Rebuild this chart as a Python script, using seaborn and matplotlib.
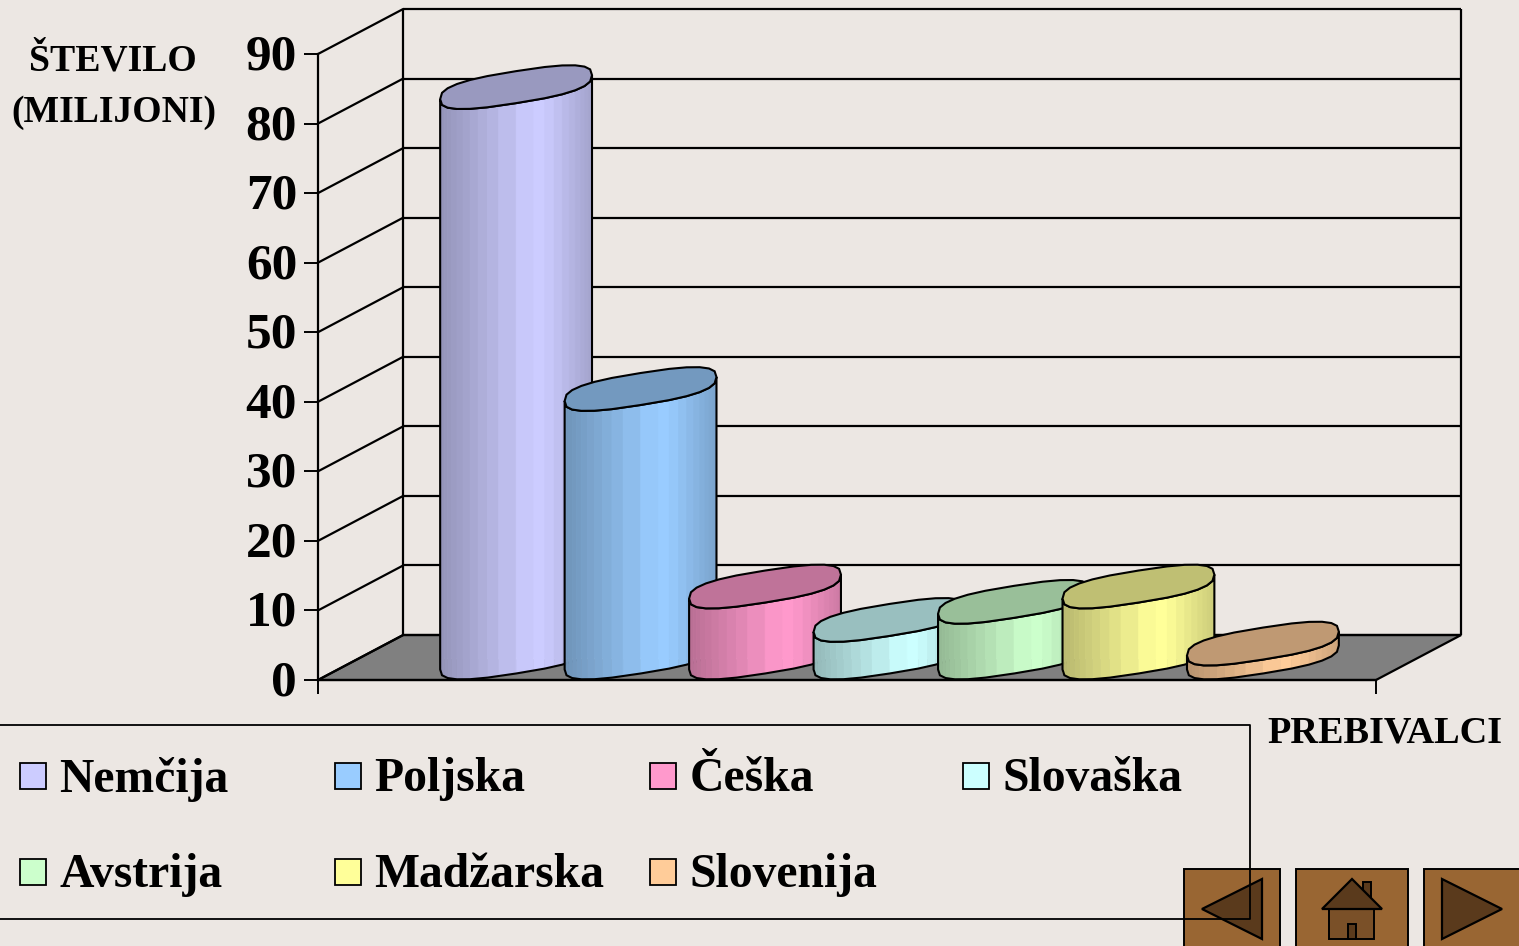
import numpy as np
import pandas as pd
import matplotlib
matplotlib.use("Agg")
import matplotlib.pyplot as plt
import seaborn as sns
from matplotlib.collections import PolyCollection
from matplotlib.patches import Polygon, Rectangle
from matplotlib.transforms import Affine2D, IdentityTransform

countries = ["Nemčija", "Poljska", "Češka", "Slovaška", "Avstrija", "Madžarska", "Slovenija"]
people = [82, 38.6, 10.2, 5.4, 8, 10.2, 2]
colors = ["#CCCCFF", "#99CCFF", "#FF99CC", "#CCFFFF", "#CCFFCC", "#FFFF99", "#FFCC99"]
y_ticks = [0, 10, 20, 30, 40, 50, 60, 70, 80, 90]

BG = "#ECE7E3"
W, H = 1519, 946

sns.set_style("white")
plt.rcParams["font.family"] = ["Liberation Serif", "DejaVu Serif"]
plt.rcParams["font.weight"] = "bold"

fig = plt.figure(figsize=(W / 100, H / 100), dpi=100, facecolor=BG)
ax = fig.add_axes([318 / W, 1 - 680 / H, (1376 - 318) / W, (680 - 54) / H])
ax.set_facecolor("none")

df = pd.DataFrame({"country": countries, "people": people})
sns.barplot(data=df, x="country", y="people", hue="country", palette=colors, order=countries,
            hue_order=countries, dodge=False, width=1.22, saturation=1, legend=False, ax=ax)
bars = list(ax.patches)
ax.set_xlim(-1.25, 7.25)
ax.set_ylim(0, 90)
fig.canvas.draw()

# fake 3d: back wall is shifted in pixels, the bars stand half way in
wall_tf = ax.transData + Affine2D().translate(85.2, 45)
mid_tf = ax.transData + Affine2D().translate(42.5, 22.5)
x0, x1 = ax.get_xlim()

p = ax.transData.transform([(x0, 0), (x1, 0)])
q = wall_tf.transform([(x1, 0), (x0, 0)])
floor = Polygon(np.vstack([p, q]), closed=True, transform=IdentityTransform(),
                fc="#808080", ec="black", lw=1.6, zorder=1, clip_on=False)
ax.add_patch(floor)

ax.hlines(y_ticks, x0, x1, colors="black", lw=1.6, transform=wall_tf, zorder=1, clip_on=False)
ax.vlines([x0, x1], 0, 90, colors="black", lw=1.6, transform=wall_tf, zorder=1, clip_on=False)
for t in y_ticks:
    a = ax.transData.transform((x0, t))
    b = wall_tf.transform((x0, t))
    ax.plot([a[0], b[0]], [a[1], b[1]], color="black", lw=1.6, transform=IdentityTransform(),
            zorder=1, clip_on=False)


def ring(cx, cy, a, ts):
    # slanted, boxy ellipse, right end is higher than the left one
    c = np.sign(np.cos(ts)) * np.abs(np.cos(ts)) ** 0.72
    s = np.sign(np.sin(ts)) * np.abs(np.sin(ts)) ** 0.72
    return np.column_stack([cx + a * c, cy + 12 * c - 16 * s])


for i, bar in enumerate(bars):
    z = 3 + i
    left = mid_tf.transform((bar.get_x(), 0))
    right = mid_tf.transform((bar.get_x() + bar.get_width(), bar.get_height()))
    cx = (left[0] + right[0]) / 2
    a = (right[0] - left[0]) / 2
    ts = np.linspace(np.pi, 0, 13)
    low = ring(cx, left[1], a, ts)
    high = ring(cx, right[1], a, ts)
    body = Polygon(np.vstack([low, high[::-1]]), closed=True, transform=IdentityTransform(),
                   fc="none", ec="black", lw=1.5, zorder=z + 0.3, clip_on=False)
    ax.add_patch(body)

    bar.set_transform(mid_tf)
    bar.set_zorder(z)
    bar.set_clip_path(body)

    rgb = np.array(matplotlib.colors.to_rgb(colors[i]))
    fine = np.linspace(np.pi, 0, 25)
    low_f = ring(cx, left[1], a, fine)
    high_f = ring(cx, right[1], a, fine)
    quads, shades = [], []
    for k in range(len(fine) - 1):
        quads.append([low_f[k], low_f[k + 1], high_f[k + 1], high_f[k]])
        u = ((low_f[k][0] + low_f[k + 1][0]) / 2 - (cx - a)) / (2 * a)
        shades.append(rgb * np.interp(u, [0, 0.6, 0.68, 1], [0.72, 1, 1, 0.8]))
    strips = PolyCollection(quads, facecolors=shades, edgecolors=shades, linewidths=0.4,
                            transform=IdentityTransform(), zorder=z + 0.1, clip_on=False)
    ax.add_collection(strips)

    top = ring(cx, right[1], a, np.linspace(0, 2 * np.pi, 25)[:-1])
    ax.add_patch(Polygon(top, closed=True, transform=IdentityTransform(), fc=rgb * 0.75, ec="black",
                         lw=1.5, zorder=z + 0.4, clip_on=False))

ax.set_xlabel("")
ax.set_ylabel("")
ax.set_xticks([x0, x1])
ax.set_xticklabels(["", ""])
ax.set_yticks(y_ticks)
ax.set_yticklabels([str(t) for t in y_ticks], fontsize=37, fontweight="bold")
ax.tick_params(axis="both", which="both", direction="out", length=10, width=1.4, color="black",
               left=True, bottom=True, labelcolor="black")
ax.tick_params(axis="y", pad=5)
for label in ax.get_yticklabels():
    label.set_transform(label.get_transform() + Affine2D().translate(0, 2))
sns.despine(ax=ax, top=True, right=True)
for side in ["left", "bottom"]:
    ax.spines[side].set_color("black")
    ax.spines[side].set_linewidth(1.6)
    ax.spines[side].set_zorder(2)
ax.spines["bottom"].set_zorder(20)

# everything around the plot is placed in image pixels
ov = fig.add_axes([0, 0, 1, 1], zorder=5)
ov.set_xlim(0, W)
ov.set_ylim(H, 0)
ov.axis("off")

ov.text(113, 61, "ŠTEVILO", fontsize=27.2, fontweight="bold", ha="center", va="center", color="black")
ov.text(114, 112, "(MILIJONI)", fontsize=27.2, fontweight="bold", ha="center", va="center", color="black")
ov.text(1385, 733, "PREBIVALCI", fontsize=27.5, fontweight="bold", ha="center", va="center", color="black")

BTN = "#996633"
DARK = "#5A3A1C"
for bx, bw in [(1184, 96), (1296, 112), (1424, 110)]:
    ov.add_patch(Rectangle((bx, 869), bw, 90, fc=BTN, ec="black", lw=1.4, zorder=1))
ov.add_patch(Polygon([(1202, 909), (1262, 879), (1262, 939)], fc=DARK, ec="black", lw=1.6, zorder=2))
ov.add_patch(Polygon([(1442, 879), (1502, 909), (1442, 939)], fc=DARK, ec="black", lw=1.6, zorder=2))
ov.add_patch(Rectangle((1363, 882), 8, 18, fc=DARK, ec="black", lw=1.4, zorder=2))
ov.add_patch(Rectangle((1329, 909), 45, 30, fc="#7A5028", ec="black", lw=1.4, zorder=2))
ov.add_patch(Rectangle((1348, 924), 8, 15, fc=DARK, ec="black", lw=1.4, zorder=3))
ov.add_patch(Polygon([(1352, 879), (1322, 909), (1382, 909)], fc=DARK, ec="black", lw=1.6, zorder=3))

ov.plot([-5, 1250, 1250, -5], [725, 725, 919, 919], color="black", lw=1.3, zorder=4)
col_x = [20, 335, 650, 963, 20, 335, 650]
row_y = [776, 776, 776, 776, 872, 872, 872]
for name, c, sx, sy in zip(countries, colors, col_x, row_y):
    ov.add_patch(Rectangle((sx, sy - 13), 26, 26, fc=c, ec="black", lw=1.3, zorder=4))
    ov.text(sx + 39.5, sy - 2, name, fontsize=34.3, fontweight="bold", ha="left", va="center_baseline",
            color="black", zorder=4)

fig.savefig("out.png", dpi=100, facecolor=BG)
